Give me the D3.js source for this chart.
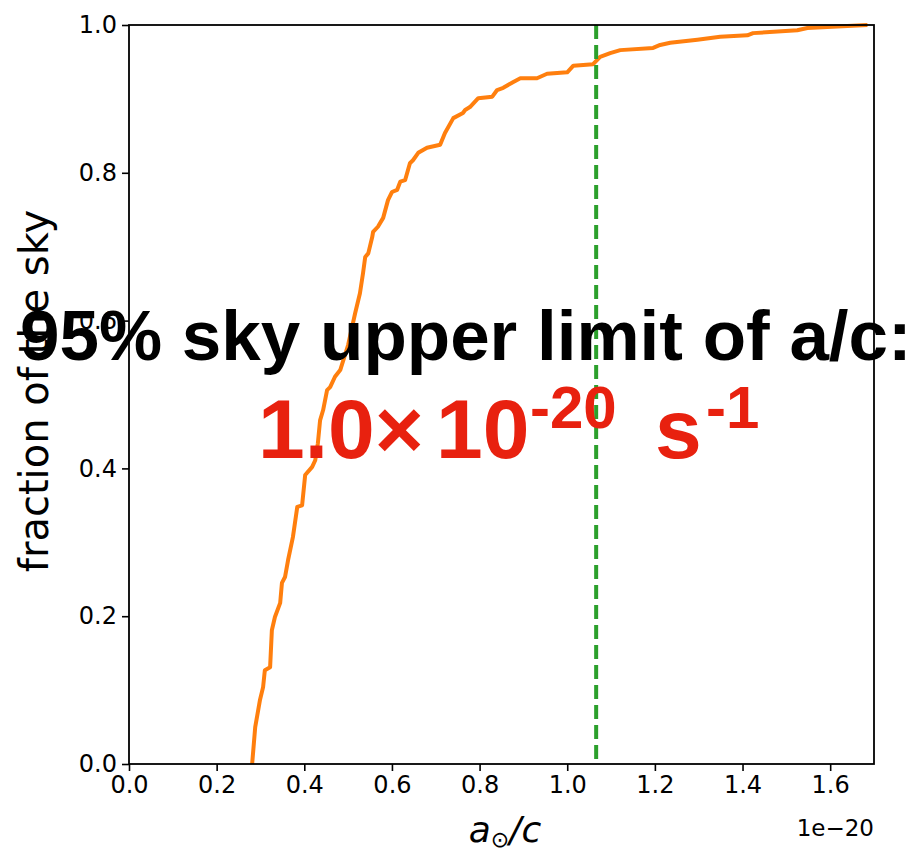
<!DOCTYPE html>
<html>
<head>
<meta charset="utf-8">
<script src="https://cdn.jsdelivr.net/npm/d3@7"></script>
<style>
  body { margin: 0; background: #fff; }
  svg { display: block; }
</style>
</head>
<body>
<div id="chart"></div>
<script>
// --- DATA ---
// cumulative sky fraction vs a/c (units of 1e-20)
var accel = [0.281, 0.288, 0.299, 0.306, 0.310, 0.322, 0.326, 0.333, 0.345, 0.349,
  0.356, 0.363, 0.374, 0.384, 0.395, 0.402, 0.418, 0.425, 0.431, 0.436,
  0.443, 0.452, 0.459, 0.470, 0.482, 0.500, 0.516, 0.527, 0.534, 0.539,
  0.546, 0.555, 0.557, 0.568, 0.580, 0.591, 0.600, 0.612, 0.619, 0.630,
  0.641, 0.648, 0.660, 0.680, 0.710, 0.721, 0.740, 0.762, 0.767, 0.778,
  0.797, 0.829, 0.840, 0.854, 0.877, 0.893, 0.931, 0.954, 1.000, 1.014,
  1.059, 1.075, 1.098, 1.121, 1.196, 1.212, 1.235, 1.297, 1.349, 1.411,
  1.424, 1.525, 1.548, 1.685];
var skyFrac = [0.000, 0.050, 0.087, 0.104, 0.127, 0.131, 0.181, 0.199, 0.218, 0.245,
  0.253, 0.276, 0.307, 0.348, 0.350, 0.391, 0.402, 0.411, 0.434, 0.465,
  0.479, 0.506, 0.510, 0.524, 0.533, 0.567, 0.610, 0.637, 0.664, 0.686,
  0.691, 0.713, 0.720, 0.727, 0.739, 0.763, 0.774, 0.777, 0.788, 0.790,
  0.813, 0.817, 0.827, 0.834, 0.838, 0.854, 0.874, 0.881, 0.885, 0.889,
  0.901, 0.903, 0.912, 0.915, 0.923, 0.928, 0.928, 0.934, 0.936, 0.945,
  0.947, 0.957, 0.962, 0.966, 0.969, 0.973, 0.976, 0.980, 0.984, 0.986,
  0.989, 0.993, 0.996, 1.000];
var upperLimit = 1.066;
var xTicks = [0.0, 0.2, 0.4, 0.6, 0.8, 1.0, 1.2, 1.4, 1.6];
var yTicks = [0.0, 0.2, 0.4, 0.6, 0.8, 1.0];

// --- SETUP ---
var width = 924, height = 857;
var margin = { left: 129, top: 25, right: 50, bottom: 93 };
var innerW = width - margin.left - margin.right;
var innerH = height - margin.top - margin.bottom;

var svg = d3.select("#chart").append("svg")
  .attr("width", width)
  .attr("height", height);

var x = d3.scaleLinear().domain([0, 1.7]).range([0, innerW]);
var y = d3.scaleLinear().domain([0, 1]).range([innerH, 0]);

var g = svg.append("g").attr("transform", "translate(" + margin.left + "," + margin.top + ")");

// --- AXES ---
var tickFont = "DejaVu Sans";
var xAxis = g.append("g")
  .attr("transform", "translate(0," + innerH + ")")
  .call(d3.axisBottom(x).tickValues(xTicks).tickFormat(d3.format(".1f")).tickSize(7).tickPadding(5));
var yAxis = g.append("g")
  .call(d3.axisLeft(y).tickValues(yTicks).tickFormat(d3.format(".1f")).tickSize(7).tickPadding(5));

[xAxis, yAxis].forEach(function(ax) {
  ax.select(".domain").remove();
  ax.selectAll("line").attr("stroke", "#000").attr("stroke-width", 1.6);
  ax.selectAll("text").attr("font-family", tickFont).attr("font-size", 24).attr("fill", "#000");
});

// --- CURVE ---
var pts = accel.map(function(a, i) { return [a, skyFrac[i]]; });
var line = d3.line().x(function(d) { return x(d[0]); }).y(function(d) { return y(d[1]); });

g.append("path")
  .datum(pts)
  .attr("d", line)
  .attr("fill", "none")
  .attr("stroke", "#ff7f0e")
  .attr("stroke-width", 4)
  .attr("stroke-linejoin", "round");

g.append("line")
  .attr("x1", x(upperLimit)).attr("x2", x(upperLimit))
  .attr("y1", 0).attr("y2", innerH)
  .attr("stroke", "#2ca02c")
  .attr("stroke-width", 4)
  .attr("stroke-dasharray", "14,6");

// frame
g.append("rect")
  .attr("width", innerW).attr("height", innerH)
  .attr("fill", "none").attr("stroke", "#000").attr("stroke-width", 1.8);

// --- LABELS ---
svg.append("text")
  .attr("transform", "translate(48," + 391 + ") rotate(-90)")
  .attr("text-anchor", "middle")
  .attr("font-family", tickFont)
  .attr("font-size", 40)
  .text("fraction of the sky");

var xl = svg.append("text")
  .attr("x", 505).attr("y", 842)
  .attr("text-anchor", "middle")
  .attr("font-family", tickFont)
  .attr("font-size", 36);
xl.append("tspan").attr("font-style", "italic").text("a");
xl.append("tspan").attr("font-size", 22).attr("dy", 5).text("\u2299");
xl.append("tspan").attr("font-style", "italic").attr("dy", -5).text("/c");

svg.append("text")
  .attr("x", margin.left + innerW).attr("y", 836)
  .attr("text-anchor", "end")
  .attr("font-family", tickFont)
  .attr("font-size", 23)
  .text("1e\u221220");

// --- ANNOTATION ---
svg.append("text")
  .attr("x", 20).attr("y", 360)
  .attr("font-family", "Liberation Sans, Arial, sans-serif")
  .attr("font-weight", "bold")
  .attr("font-size", 71)
  .attr("fill", "#000")
  .text("95% sky upper limit of a/c:");

var red = svg.append("text")
  .attr("y", 458)
  .attr("font-family", "Liberation Sans, Arial, sans-serif")
  .attr("font-weight", "bold")
  .attr("font-size", 84)
  .attr("fill", "#e8210f");
red.append("tspan").attr("x", 258).text("1.0\u00d7");
red.append("tspan").attr("x", 436).text("10");
red.append("tspan").attr("x", 530).attr("font-size", 60).attr("dy", -30).text("-20");
red.append("tspan").attr("x", 655).attr("dy", 30).text("s");
red.append("tspan").attr("x", 706).attr("font-size", 60).attr("dy", -30).text("-1");
</script>
</body>
</html>
